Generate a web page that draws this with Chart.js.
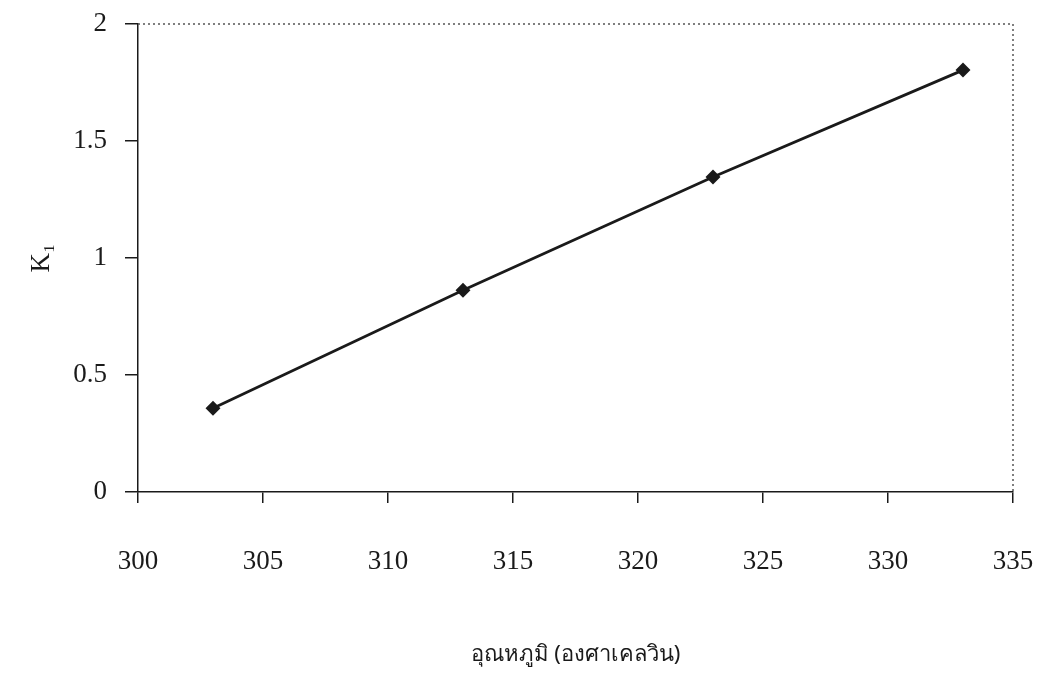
<!DOCTYPE html>
<html>
<head>
<meta charset="utf-8">
<script src="https://cdn.jsdelivr.net/npm/chart.js@4"></script>
<style>
  html, body { margin: 0; padding: 0; background: #fff; }
  #wrap { width: 1038px; height: 678px; }
</style>
</head>
<body>
<div id="wrap"><canvas id="k1Chart" width="1038" height="678"></canvas></div>
<script>
const temps = [303, 313, 323, 333]
const k1Values = [0.358, 0.862, 1.346, 1.803]
const xTicks = [300, 305, 310, 315, 320, 325, 330, 335]
const yTicks = [0, 0.5, 1, 1.5, 2]
const xTitle = "อุณหภูมิ (องศาเคลวิน)"
const yTitle = "K₁"

const serif = "'Liberation Serif', 'Times New Roman', serif"
const ink = "#1a1a1a"

// dotted frame on top and right of the plot area
const dottedFrame = {
  id: "dottedFrame",
  afterDraw(chart) {
    const { ctx, chartArea } = chart
    ctx.save()
    ctx.strokeStyle = "#555"
    ctx.lineWidth = 1.5
    ctx.setLineDash([2, 3])
    ctx.beginPath()
    ctx.moveTo(chartArea.left, chartArea.top)
    ctx.lineTo(chartArea.right, chartArea.top)
    ctx.lineTo(chartArea.right, chartArea.bottom)
    ctx.stroke()
    ctx.restore()
  }
}

const points = temps.map((t, i) => ({ x: t, y: k1Values[i] }))

new Chart(document.getElementById("k1Chart"), {
  type: "line",
  data: {
    datasets: [{
      data: points,
      borderColor: ink,
      backgroundColor: ink,
      borderWidth: 2.8,
      pointStyle: "rectRot",
      pointRadius: 5.5,
      pointHoverRadius: 5.5,
      tension: 0
    }]
  },
  options: {
    responsive: false,
    animation: false,
    layout: { padding: { top: 24, right: 25, left: 0, bottom: 0 } },
    plugins: { legend: { display: false }, tooltip: { enabled: false } },
    scales: {
      x: {
        type: "linear",
        min: 300,
        max: 335,
        afterBuildTicks: (scale) => { scale.ticks = xTicks.map(v => ({ value: v })) },
        afterFit: (scale) => {
          scale.height = 186
          scale.paddingRight = 0
          scale.paddingLeft = 0
        },
        grid: { drawOnChartArea: false, drawTicks: true, tickLength: 11, color: ink, lineWidth: 1.5 },
        border: { color: ink, width: 1.5 },
        ticks: { color: ink, padding: 43, font: { family: serif, size: 27 }, maxRotation: 0, callback: v => String(v) },
        title: {
          display: true,
          text: xTitle,
          color: ink,
          font: { family: "'Noto Sans', 'DejaVu Sans', sans-serif", size: 22 },
          padding: { top: 4, bottom: 10 }
        }
      },
      y: {
        min: 0,
        max: 2,
        afterBuildTicks: (scale) => { scale.ticks = yTicks.map(v => ({ value: v })) },
        afterFit: (scale) => {
          scale.width = 138
          scale.paddingTop = 0
          scale.paddingBottom = 0
        },
        grid: { drawOnChartArea: false, drawTicks: true, tickLength: 13, color: ink, lineWidth: 1.5 },
        border: { color: ink, width: 1.5 },
        ticks: { color: ink, padding: 18, font: { family: serif, size: 27 }, callback: v => String(v) },
        title: {
          display: true,
          text: yTitle,
          color: ink,
          font: { family: serif, size: 27 },
          padding: { top: 26, bottom: 4 }
        }
      }
    }
  },
  plugins: [dottedFrame]
})
</script>
</body>
</html>
